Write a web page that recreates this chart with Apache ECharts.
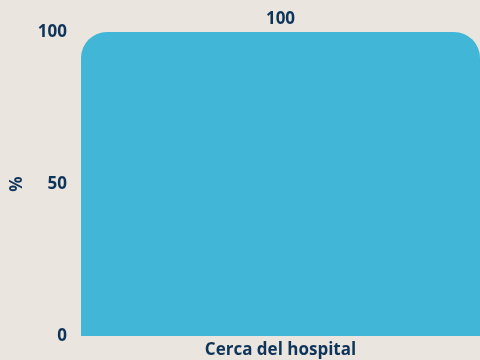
<!DOCTYPE html>
<html>
<head>
<meta charset="utf-8">
<style>
  html, body { margin: 0; padding: 0; background: #ebe5df; }
  #chart { width: 480px; height: 360px; }
</style>
<script src="https://cdn.jsdelivr.net/npm/echarts@6/dist/echarts.min.js"></script>
</head>
<body>
<div id="chart"></div>
<script>
const categories = ['Cerca del hospital'];
const values = [100];
const yTicks = { min: 0, max: 100, interval: 50 };

const ink = '#0e3459';
const font = "'Open Sans', sans-serif";
const size = 17;
const weight = 700;

const chart = echarts.init(document.getElementById('chart'), null, { renderer: 'canvas' });
chart.setOption({
  backgroundColor: '#ebe5df',
  animation: false,
  grid: { left: 81, right: 0, top: 32, bottom: 24, containLabel: false, outerBoundsMode: 'none' },
  xAxis: {
    type: 'category',
    data: categories,
    axisLine: { show: false },
    axisTick: { show: false },
    axisLabel: { color: ink, fontFamily: font, fontWeight: weight, fontSize: size, margin: 6 }
  },
  yAxis: {
    type: 'value',
    min: yTicks.min, max: yTicks.max, interval: yTicks.interval,
    name: '%',
    nameLocation: 'middle',
    nameGap: 55,
    nameTextStyle: { color: ink, fontFamily: font, fontWeight: weight, fontSize: size },
    splitLine: { show: false },
    axisLine: { show: false },
    axisTick: { show: false },
    axisLabel: { color: ink, fontFamily: font, fontWeight: weight, fontSize: size, margin: 14 }
  },
  series: [{
    type: 'bar',
    data: values,
    barWidth: '100%',
    itemStyle: { color: '#41b6d6', borderRadius: [26, 26, 0, 0] },
    label: {
      show: true, position: 'top', distance: 4,
      color: ink, fontFamily: font, fontWeight: weight, fontSize: size
    }
  }]
});
</script>
</body>
</html>
